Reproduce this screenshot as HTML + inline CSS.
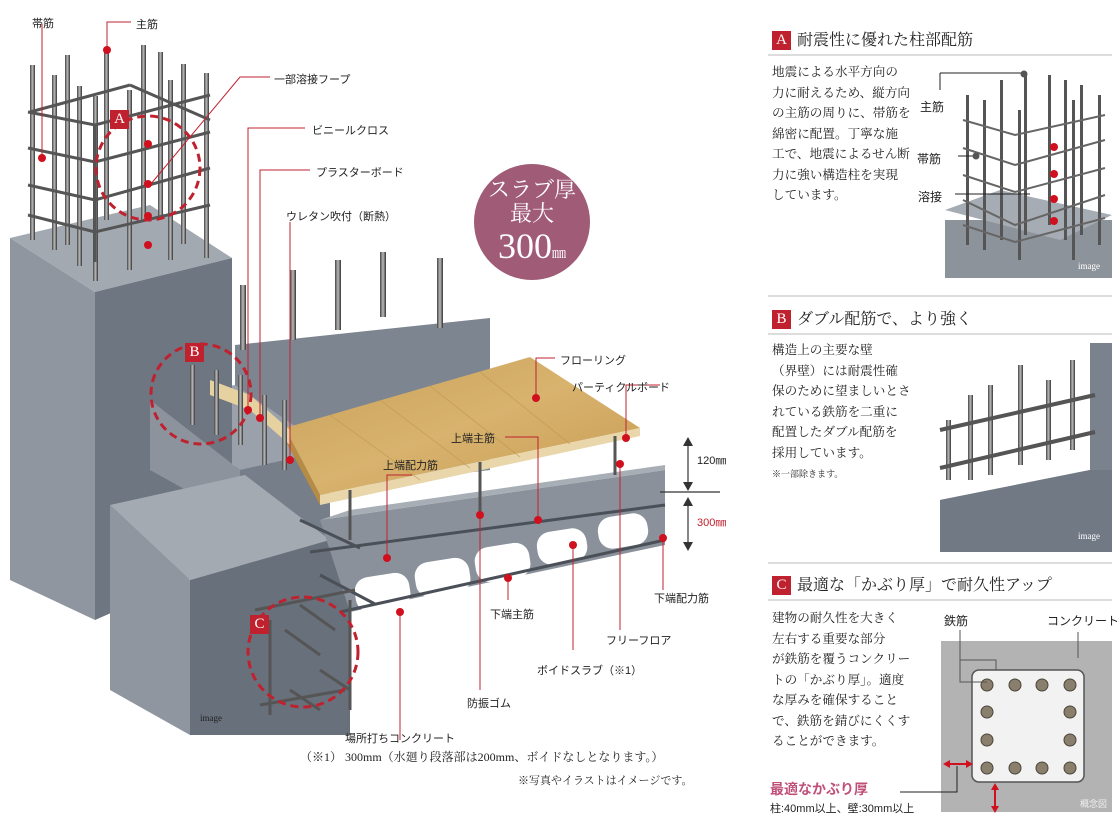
<!DOCTYPE html>
<html><head><meta charset="utf-8">
<style>
body{margin:0;background:#fff;width:1120px;height:822px;overflow:hidden;position:relative;font-family:"Liberation Sans","Noto Sans CJK JP",sans-serif;color:#222}
.t{position:absolute;white-space:nowrap;font-size:11px;color:#222}
.h{position:absolute;font-family:"Liberation Serif","Noto Serif CJK SC",serif;font-size:16px;white-space:nowrap}
.b{display:inline-block;width:19px;height:19px;background:#c0212f;color:#fff;text-align:center;line-height:19px;font-size:15px;margin-right:6px;font-family:"Liberation Serif",serif;vertical-align:1px}
.p{position:absolute;font-size:12.6px;line-height:20.5px;color:#222;font-family:"Liberation Serif","Noto Serif CJK SC",serif;white-space:nowrap}
.hr{position:absolute;left:768px;width:344px;height:2px;background:#ddd}
</style></head><body>
<svg width="1120" height="822" style="position:absolute;left:0;top:0">
<defs>
<linearGradient id="rod" x1="0" x2="1"><stop offset="0" stop-color="#444"/><stop offset=".5" stop-color="#bbb"/><stop offset="1" stop-color="#333"/></linearGradient>
<linearGradient id="wood" x1="0" y1="0" x2="1" y2="1"><stop offset="0" stop-color="#c9a25a"/><stop offset=".5" stop-color="#d8b36e"/><stop offset="1" stop-color="#c79a52"/></linearGradient>
</defs>
<polygon points="235,345 490,318 490,470 235,500" fill="#7d8591"/>
<polygon points="150,400 235,385 330,450 240,470" fill="#9aa1aa"/>
<polygon points="10,238 150,205 232,258 95,292" fill="#a3a9b1"/>
<polygon points="10,238 95,292 95,620 10,580" fill="#8f96a0"/>
<polygon points="95,292 232,258 232,560 95,620" fill="#6e7681"/>
<polygon points="150,400 240,470 240,520 150,470" fill="#8c939d"/>
<polygon points="240,470 330,450 330,560 240,590" fill="#767e89"/>
<polygon points="110,505 245,475 330,540 190,580" fill="#a4aab2"/>
<polygon points="110,505 190,580 190,735 110,690" fill="#8f96a0"/>
<polygon points="190,580 330,540 350,560 350,735 190,735" fill="#68707b"/>
<polygon points="320,520 665,470 665,545 350,612" fill="#8a919b"/>
<polygon points="320,520 350,510 665,465 665,470" fill="#a8aeb5"/>
<g fill="#fff">
<rect x="355" y="575" width="55" height="35" rx="14" transform="rotate(-9 382 592)"/>
<rect x="415" y="560" width="55" height="35" rx="14" transform="rotate(-9 442 577)"/>
<rect x="475" y="545" width="55" height="35" rx="14" transform="rotate(-9 502 562)"/>
<rect x="537" y="530" width="50" height="33" rx="14" transform="rotate(-9 562 546)"/>
<rect x="598" y="515" width="50" height="32" rx="14" transform="rotate(-9 623 531)"/>
</g>
<g stroke="#4b5058" stroke-width="3">
<line x1="310" y1="552" x2="665" y2="505"/><line x1="340" y1="612" x2="665" y2="540"/>
<line x1="300" y1="520" x2="360" y2="548"/><line x1="320" y1="575" x2="375" y2="604"/>
</g>
<polygon points="285,428 530,357 640,428 320,495" fill="url(#wood)"/>
<polygon points="320,495 640,428 640,436 320,505" fill="#e9d7ab"/>
<polygon points="285,428 320,495 320,505 285,440" fill="#b58b45"/>
<polygon points="210,380 250,395 290,430 290,445 250,410 210,395" fill="#e6d1a0"/>
<g stroke="#bf9650" stroke-width="1" opacity=".6">
<line x1="330" y1="415" x2="420" y2="480"/><line x1="380" y1="400" x2="470" y2="468"/><line x1="430" y1="386" x2="520" y2="457"/><line x1="480" y1="372" x2="570" y2="444"/>
</g>
<g stroke="#555" stroke-width="3"><line x1="350" y1="490" x2="350" y2="540"/><line x1="480" y1="462" x2="480" y2="515"/><line x1="615" y1="436" x2="615" y2="475"/></g>
<g fill="url(#rod)">
<rect x="30" y="65" width="5" height="175"/><rect x="52" y="75" width="5" height="175"/><rect x="65" y="55" width="5" height="190"/><rect x="77" y="86" width="5" height="180"/><rect x="93" y="96" width="5" height="185"/>
<rect x="104" y="50" width="5" height="170"/><rect x="127" y="90" width="5" height="180"/><rect x="141" y="45" width="5" height="175"/><rect x="158" y="52" width="5" height="165"/>
<rect x="168" y="80" width="5" height="180"/><rect x="181" y="64" width="5" height="180"/><rect x="204" y="73" width="5" height="185"/>
<rect x="240" y="285" width="6" height="65"/><rect x="290" y="270" width="6" height="70"/><rect x="335" y="260" width="6" height="70"/><rect x="380" y="252" width="6" height="65"/><rect x="437" y="258" width="6" height="70"/>
<rect x="190" y="365" width="5" height="60"/><rect x="214" y="370" width="5" height="65"/><rect x="238" y="375" width="5" height="70"/><rect x="262" y="395" width="5" height="70"/><rect x="282" y="400" width="5" height="70"/>
</g>
<g stroke="#555" stroke-width="3" fill="none">
<polyline points="28,112 95,125 210,95"/><polyline points="28,148 95,162 210,132"/><polyline points="28,185 95,200 210,168"/><polyline points="28,215 95,232 210,205"/><polyline points="95,125 95,262"/>
<line x1="30" y1="112" x2="130" y2="85"/><line x1="130" y1="85" x2="210" y2="120"/>
<line x1="255" y1="610" x2="355" y2="590"/><line x1="260" y1="705" x2="345" y2="690"/><line x1="350" y1="600" x2="350" y2="710"/><line x1="270" y1="620" x2="270" y2="715"/>
<line x1="285" y1="630" x2="320" y2="655"/><line x1="300" y1="605" x2="335" y2="630"/><line x1="290" y1="690" x2="320" y2="710"/><line x1="320" y1="670" x2="350" y2="690"/>
</g>
<g fill="none" stroke="#c0212f" stroke-width="3" stroke-dasharray="8 5">
<circle cx="148" cy="168" r="52"/><circle cx="201" cy="394" r="50"/><circle cx="303" cy="652" r="55"/>
</g>
<g stroke="#c0212f" stroke-width="1" fill="none">
<polyline points="42,24 42,158"/><polyline points="131,22 107,22 107,50"/><polyline points="270,77 240,77 150,185"/>
<polyline points="305,128 248,128 248,410"/><polyline points="310,170 260,170 260,418"/><polyline points="290,222 290,460"/>
<polyline points="555,358 536,358 536,398"/><polyline points="505,437 538,437 538,520"/><polyline points="412,475 387,475 387,558"/><polyline points="660,385 626,385 626,440"/>
<line x1="620" y1="465" x2="620" y2="630"/><line x1="573" y1="545" x2="573" y2="650"/><line x1="480" y1="515" x2="480" y2="690"/><line x1="508" y1="578" x2="508" y2="600"/><line x1="663" y1="538" x2="663" y2="590"/><line x1="400" y1="612" x2="400" y2="740"/>
</g>
<g fill="#d0101e">
<circle cx="42" cy="158" r="4"/><circle cx="107" cy="50" r="4"/><circle cx="148" cy="144" r="4"/><circle cx="148" cy="184" r="4"/><circle cx="148" cy="216" r="4"/><circle cx="148" cy="245" r="4"/>
<circle cx="248" cy="410" r="4"/><circle cx="260" cy="418" r="4"/><circle cx="290" cy="460" r="4"/><circle cx="536" cy="398" r="4"/><circle cx="626" cy="438" r="4"/><circle cx="620" cy="464" r="4"/>
<circle cx="538" cy="520" r="4"/><circle cx="387" cy="558" r="4"/><circle cx="480" cy="515" r="4"/><circle cx="573" cy="545" r="4"/><circle cx="508" cy="578" r="4"/><circle cx="663" cy="538" r="4"/><circle cx="400" cy="612" r="4"/>
</g>
<g stroke="#333" stroke-width="1.2"><line x1="688" y1="440" x2="688" y2="488"/><line x1="688" y1="500" x2="688" y2="548"/><line x1="660" y1="492" x2="720" y2="492"/></g>
<g fill="#333"><polygon points="683,446 693,446 688,437"/><polygon points="683,482 693,482 688,491"/><polygon points="683,506 693,506 688,497"/><polygon points="683,542 693,542 688,551"/></g>
<circle cx="532" cy="222" r="58" fill="#a05b76"/>
<polygon points="945,220 1112,220 1112,278 945,278" fill="#8d939b"/>
<polygon points="945,210 1000,190 1112,215 1060,240" fill="#a6acb3"/>
<g fill="#555"><rect x="966" y="95" width="3" height="150"/><rect x="983" y="100" width="3" height="150"/><rect x="1000" y="80" width="3" height="160"/><rect x="1018" y="110" width="3" height="150"/><rect x="1024" y="75" width="3" height="160"/><rect x="1048" y="75" width="3" height="150"/><rect x="1064" y="80" width="3" height="160"/><rect x="1072" y="100" width="3" height="160"/><rect x="1080" y="85" width="3" height="150"/><rect x="1098" y="95" width="3" height="150"/></g>
<g stroke="#666" stroke-width="2" fill="none"><polyline points="963,120 1015,135 1105,115"/><polyline points="963,148 1015,165 1105,140"/><polyline points="963,175 1015,192 1105,168"/><polyline points="963,200 1015,225 1105,195"/><polyline points="963,225 1015,242 1105,218"/></g>
<g stroke="#222" stroke-width="1" fill="none"><polyline points="940,73 1024,73"/><line x1="940" y1="73" x2="940" y2="90"/><line x1="958" y1="156" x2="976" y2="156"/><line x1="955" y1="194" x2="1030" y2="194"/></g>
<circle cx="1024" cy="74" r="3.5" fill="#555"/><circle cx="976" cy="156" r="3.5" fill="#555"/>
<g fill="#d0101e"><circle cx="1054" cy="147" r="4"/><circle cx="1054" cy="174" r="4"/><circle cx="1054" cy="199" r="4"/><circle cx="1054" cy="221" r="4"/></g>
<rect x="940" y="343" width="172" height="209" fill="#7a828d"/>
<polygon points="940,343 1090,343 1090,470 940,500" fill="#fff"/>
<polygon points="940,500 1090,470 1112,470 1112,552 940,552" fill="#717984"/>
<g fill="url(#rod)"><rect x="946" y="420" width="5" height="60"/><rect x="968" y="395" width="5" height="85"/><rect x="988" y="385" width="5" height="90"/><rect x="1018" y="365" width="5" height="100"/><rect x="1046" y="380" width="5" height="80"/><rect x="1070" y="360" width="5" height="90"/></g>
<g stroke="#555" stroke-width="4"><line x1="940" y1="430" x2="1095" y2="395"/><line x1="940" y1="468" x2="1095" y2="432"/></g>
<rect x="941" y="641" width="171" height="171" fill="#b3b3b3"/>
<rect x="972" y="670" width="112" height="112" rx="7" fill="#f2f2f2" stroke="#555" stroke-width="1.5"/>
<g fill="#8a7f6d" stroke="#4a443a" stroke-width="1"><circle cx="987" cy="685" r="6"/><circle cx="1015" cy="685" r="6"/><circle cx="1042" cy="685" r="6"/><circle cx="1070" cy="685" r="6"/><circle cx="987" cy="712" r="6"/><circle cx="1070" cy="712" r="6"/><circle cx="987" cy="740" r="6"/><circle cx="1070" cy="740" r="6"/><circle cx="987" cy="768" r="6"/><circle cx="1015" cy="768" r="6"/><circle cx="1042" cy="768" r="6"/><circle cx="1070" cy="768" r="6"/></g>
<g stroke="#555" stroke-width="1" fill="none"><polyline points="960,630 960,682 987,682"/><polyline points="960,660 996,660 996,670"/><line x1="1078" y1="632" x2="1078" y2="658"/></g>
<g stroke="#d0101e" stroke-width="2"><line x1="946" y1="764" x2="970" y2="764"/><line x1="995" y1="786" x2="995" y2="810"/></g>
<g fill="#d0101e"><polygon points="943,764 950,760 950,768"/><polygon points="973,764 966,760 966,768"/><polygon points="995,783 991,790 999,790"/><polygon points="995,813 991,806 999,806"/></g>
<polyline points="900,792 957,792 957,766" stroke="#222" fill="none"/>
</svg>
<div style="position:absolute;left:474px;top:178px;width:116px;text-align:center;color:#fff;font-family:'Liberation Serif','Noto Serif CJK SC',serif;font-size:22px;line-height:24px">スラブ厚<br>最大<br><span style="font-size:36px;line-height:40px">300</span><span style="font-size:14px">㎜</span></div>
<div class="b" style="position:absolute;left:110px;top:110px">A</div>
<div class="b" style="position:absolute;left:185px;top:343px">B</div>
<div class="b" style="position:absolute;left:250px;top:615px">C</div>
<div class="t" style="left:32px;top:15px">帯筋</div>
<div class="t" style="left:136px;top:16px">主筋</div>
<div class="t" style="left:274px;top:71px">一部溶接フープ</div>
<div class="t" style="left:312px;top:122px">ビニールクロス</div>
<div class="t" style="left:316px;top:164px">プラスターボード</div>
<div class="t" style="left:286px;top:208px">ウレタン吹付（断熱）</div>
<div class="t" style="left:560px;top:352px">フローリング</div>
<div class="t" style="left:572px;top:379px">パーティクルボード</div>
<div class="t" style="left:451px;top:430px">上端主筋</div>
<div class="t" style="left:383px;top:457px">上端配力筋</div>
<div class="t" style="left:697px;top:452px">120㎜</div>
<div class="t" style="left:697px;top:514px;color:#c0212f">300㎜</div>
<div class="t" style="left:654px;top:590px">下端配力筋</div>
<div class="t" style="left:490px;top:606px">下端主筋</div>
<div class="t" style="left:606px;top:632px">フリーフロア</div>
<div class="t" style="left:537px;top:662px">ボイドスラブ（※1）</div>
<div class="t" style="left:467px;top:695px">防振ゴム</div>
<div class="t" style="left:345px;top:730px">場所打ちコンクリート</div>
<div class="t" style="left:200px;top:713px;font-size:9px;font-family:'Liberation Serif',serif">image</div>
<div class="t" style="left:300px;top:748px;font-size:12px;font-family:'Liberation Serif','Noto Serif CJK SC',serif">（※1） 300mm（水廻り段落部は200mm、ボイドなしとなります。）</div>
<div class="t" style="left:518px;top:772px;font-size:11px;font-family:'Liberation Serif','Noto Serif CJK SC',serif">※写真やイラストはイメージです。</div>

<div class="h" style="left:772px;top:27px"><span class="b">A</span>耐震性に優れた柱部配筋</div>
<div class="hr" style="top:54px"></div>
<div class="p" style="left:772px;top:62px">地震による水平方向の<br>力に耐えるため、縦方向<br>の主筋の周りに、帯筋を<br>綿密に配置。丁寧な施<br>工で、地震によるせん断<br>力に強い構造柱を実現<br>しています。</div>
<div class="t" style="left:920px;top:98px;font-size:12px">主筋</div>
<div class="t" style="left:917px;top:150px;font-size:12px">帯筋</div>
<div class="t" style="left:918px;top:188px;font-size:12px">溶接</div>
<div class="t" style="left:1078px;top:261px;font-size:9px;color:#fff;font-family:'Liberation Serif',serif">image</div>
<div class="hr" style="top:295px"></div>
<div class="h" style="left:772px;top:306px"><span class="b">B</span>ダブル配筋で、より強く</div>
<div class="hr" style="top:333px"></div>
<div class="p" style="left:772px;top:340px">構造上の主要な壁<br>（界壁）には耐震性確<br>保のために望ましいとさ<br>れている鉄筋を二重に<br>配置したダブル配筋を<br>採用しています。<br><span style="font-size:9px">※一部除きます。</span></div>
<div class="t" style="left:1078px;top:531px;font-size:9px;color:#fff;font-family:'Liberation Serif',serif">image</div>
<div class="hr" style="top:562px"></div>
<div class="h" style="left:772px;top:572px"><span class="b">C</span>最適な「かぶり厚」で耐久性アップ</div>
<div class="hr" style="top:599px"></div>
<div class="p" style="left:772px;top:608px">建物の耐久性を大きく<br>左右する重要な部分<br>が鉄筋を覆うコンクリー<br>トの「かぶり厚」。適度<br>な厚みを確保すること<br>で、鉄筋を錆びにくくす<br>ることができます。</div>
<div class="t" style="left:944px;top:612px;font-size:12px">鉄筋</div>
<div class="t" style="left:1047px;top:612px;font-size:12px">コンクリート</div>
<div class="t" style="left:1080px;top:797px;font-size:9px;color:#eee">概念図</div>
<div class="t" style="left:770px;top:779px;font-size:14px;color:#c0507a;font-weight:bold">最適なかぶり厚</div>
<div class="t" style="left:770px;top:800px;font-size:11px">柱:40mm以上、壁:30mm以上</div>
</body></html>
